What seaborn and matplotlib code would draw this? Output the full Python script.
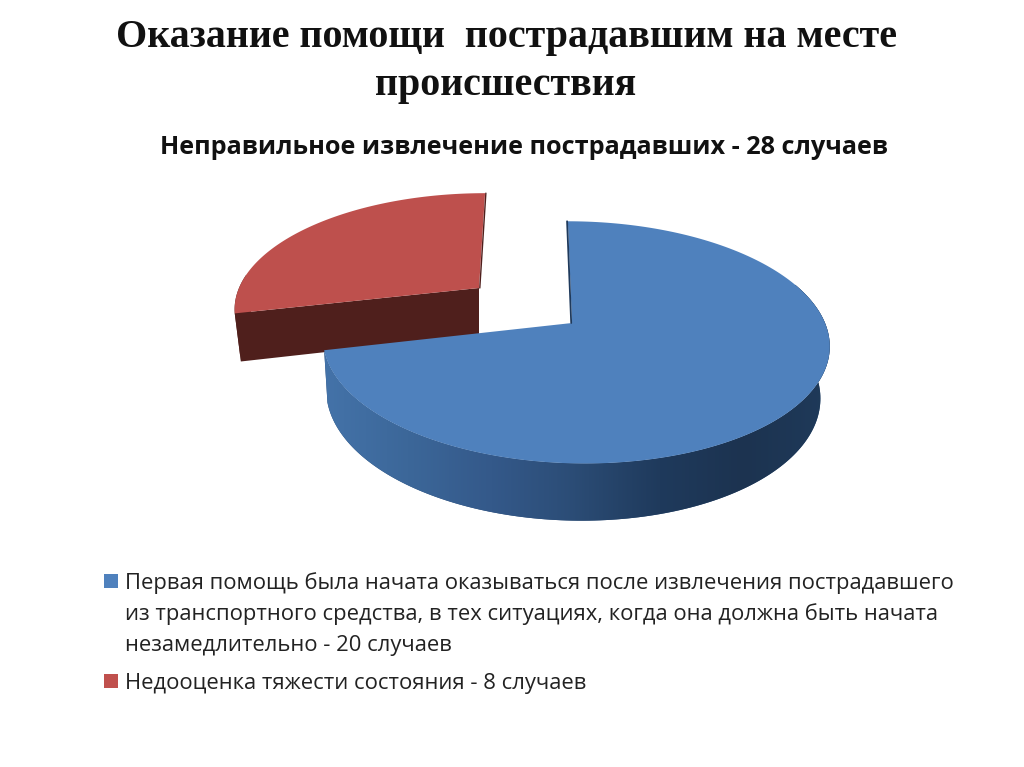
import numpy as np
import matplotlib
matplotlib.use("Agg")
import matplotlib.pyplot as plt
from matplotlib.colors import LinearSegmentedColormap
import seaborn as sb

title_lines = ["Оказание помощи  пострадавшим на месте", "происшествия"]
chart_title = "Неправильное извлечение пострадавших - 28 случаев"
categories = ["Первая помощь", "Недооценка тяжести"]
values = [20, 8]
legend_lines = [
    ["Первая помощь была начата оказываться после извлечения пострадавшего",
     "из транспортного средства, в тех ситуациях, когда она должна быть начата",
     "незамедлительно - 20 случаев"],
    ["Недооценка тяжести состояния - 8 случаев"],
]

BLUE = "#4f81bd"
RED = "#be504d"
RED_SIDE = "#4f1f1c"
BLUE_SIDE = ["#4473a9", "#3c6799", "#34598a", "#2b4c75", "#1f3a5c", "#1c3350", "#1f3a5a"]
KEY_RED = "#c0504d"

sb.set_theme(style="white")
plt.rcParams["font.family"] = ["Open Sans", "DejaVu Sans"]

# numbers are pixels of the 1024x767 slide
fig, ax = plt.subplots(figsize=(10.24, 7.67), dpi=100)
ax.set_position([0, 0, 1, 1])
ax.axis("off")


def project(deg, geo, low=False):
    # clockwise degrees from the top of the pie, with a bit of perspective
    a = np.radians(deg)
    u, v = np.sin(a), np.cos(a)
    w = 1 / (1 + 0.16 * v)
    s = 0.975 if low else 1.0
    dy = -geo["ry"] * v * w * s
    x = geo["cx"] + geo["rx"] * u * w * s + geo["shear"] * dy + (geo["low_dx"] if low else 0)
    y = geo["cy"] + dy + (geo["depth"] * w if low else 0)
    return x, y


def face(start, end, geo):
    deg = np.linspace(start, end, 200)
    x, y = project(deg, geo)
    return np.r_[geo["ax"], x], np.r_[geo["cy"], y]


angles = np.cumsum([0] + values) / sum(values) * 360
blue_geo = dict(ax=572, cx=575, cy=323, rx=250, ry=118, shear=0.07, depth=51, low_dx=-3)
red_geo = dict(ax=479, cx=479, cy=288, rx=240, ry=110, shear=-0.064, depth=47, low_dx=0)

# red slice sits behind the blue one
deg = np.linspace(angles[1], angles[1] + 20, 30)
x_hi, y_hi = project(deg, red_geo)
x_lo, y_lo = project(deg, red_geo, low=True)
ax.fill(np.r_[x_hi, x_lo[::-1]], np.r_[y_hi, y_lo[::-1]], color=RED_SIDE, lw=0)
x0, y0 = project(angles[1], red_geo)
x1, y1 = project(angles[1], red_geo, low=True)
ax.fill([x0, red_geo["ax"], red_geo["ax"], x1],
        [y0, red_geo["cy"], red_geo["cy"] + red_geo["depth"], y1],
        color=RED_SIDE, lw=0)
xf, yf = face(angles[1], angles[2], red_geo)
ax.plot([red_geo["ax"] + 0.8, xf[-1] + 0.8], [red_geo["cy"], yf[-1]],
        color=RED_SIDE, lw=1.0)
ax.fill(xf, yf, color=RED, lw=0)

# blue wall, clipped gradient so the shading runs left to right
deg = np.linspace(angles[1], 70, 170)
xh, yh = project(deg, blue_geo)
xl, yl = project(deg, blue_geo, low=True)
wall = ax.fill(np.r_[xh, xl[::-1]], np.r_[yh, yl[::-1]], color=BLUE_SIDE[3], lw=0)[0]
side_map = LinearSegmentedColormap.from_list("side", sb.blend_palette(BLUE_SIDE, n_colors=64))
grad = ax.imshow(np.linspace(0, 1, 256)[None, :], cmap=side_map, aspect="auto",
                 extent=[xl.min() - 5, xh.max(), yl.max(), yh.min()], interpolation="bilinear",
                 zorder=1)
grad.set_clip_path(wall)

xf, yf = face(angles[0], angles[1], blue_geo)
ax.plot([blue_geo["ax"] - 0.8, xf[1] - 0.8], [blue_geo["cy"], yf[1]],
        color="#1f3a5c", lw=1.3)
ax.fill(xf, yf, color=BLUE, lw=0)

ax.set_xlim(0, 1024)
ax.set_ylim(767, 0)

ax.text(506, 38, title_lines[0], family="Liberation Serif", weight="bold",
        fontsize=28.8, color="#111111", ha="center", va="center")
ax.text(506, 86, title_lines[1], family="Liberation Serif", weight="bold",
        fontsize=28.8, color="#111111", ha="center", va="center")
ax.text(524, 148, chart_title, weight="bold", fontsize=18.2, color="#111111",
        ha="center", va="center")

line_y = [[583, 614, 645], [683]]
for lines, ys, col in zip(legend_lines, line_y, [BLUE, KEY_RED]):
    ax.scatter([110.5], [ys[0] - 2.5], marker="s", s=88, color=col, lw=0)
    for text, y in zip(lines, ys):
        ax.text(125, y, text, fontsize=15.8, color="#222222", va="center")

fig.savefig("out.png", dpi=100)
